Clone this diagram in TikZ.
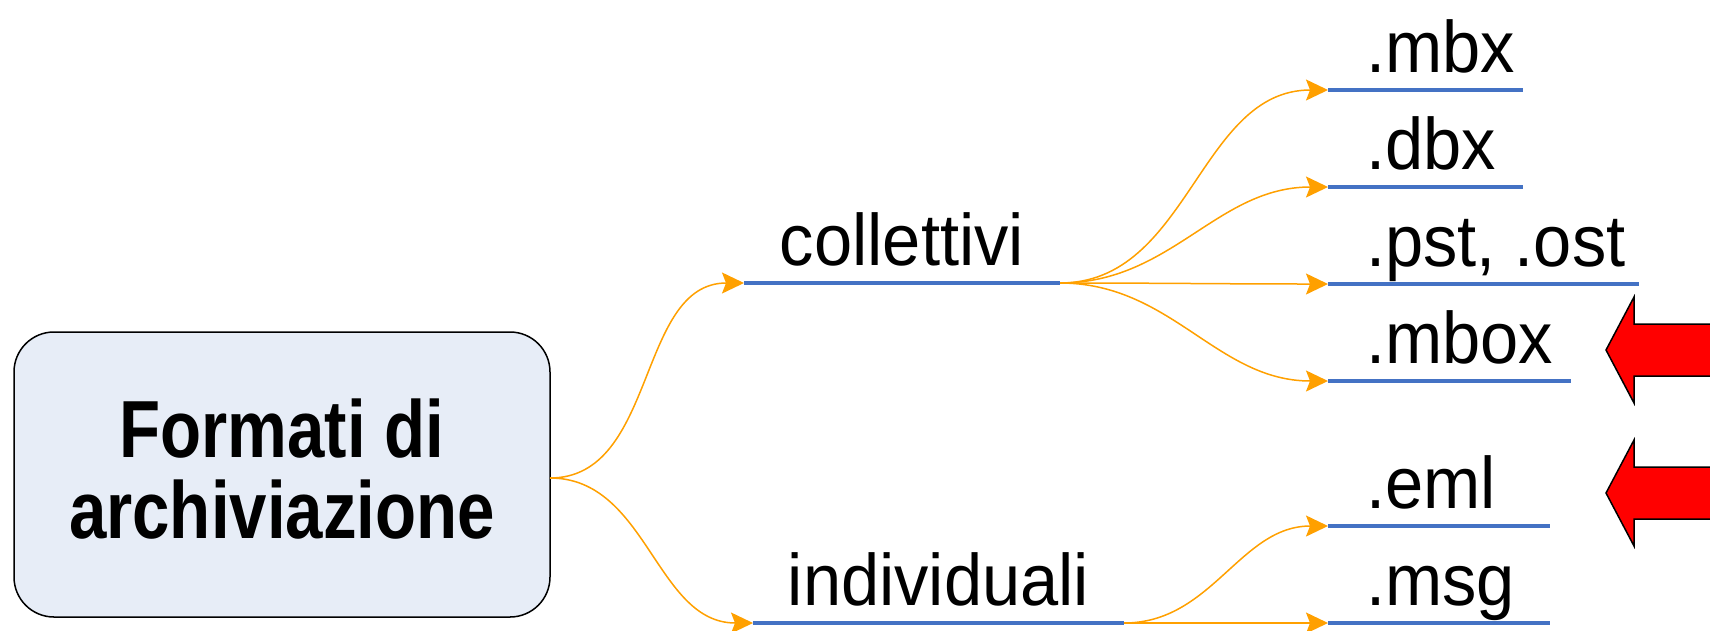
\documentclass[tikz,border=0pt]{standalone}
\usepackage{fontspec}
\setmainfont{Liberation Sans}
\newfontfamily\titlefont[FakeStretch=0.83]{Liberation Sans}
\newfontfamily\itemfont[FakeStretch=0.94]{Liberation Sans}
\usetikzlibrary{arrows.meta}
\definecolor{barblue}{RGB}{68,114,196}
\definecolor{linkorange}{RGB}{255,160,0}
\definecolor{boxfill}{RGB}{231,237,247}

\tikzset{
	bar/.style={barblue, line width=4pt},
	link/.style={linkorange, line width=1.5pt, -{Stealth[length=22pt,width=21pt,inset=4pt]}},
	item/.style={font=\itemfont\fontsize{73}{73}\selectfont, inner sep=0pt},
	titlebox/.style={draw, line width=1.5pt, fill=boxfill, rounded corners=40pt, minimum width=536pt, minimum height=285pt, align=center, font=\titlefont\bfseries\fontsize{81}{81}\selectfont, text depth=11pt},
	pointer/.style={fill=red, draw=black, line width=1.5pt, line join=miter}
}

\begin{document}
\begin{tikzpicture}[x=1pt,y=-1pt]
	\useasboundingbox (0,0) rectangle (1710,630);

	\node[titlebox] (fmt) at (282,474.5) {Formati di\\archiviazione};
	\coordinate (fmt-r) at (550,478);

	% rami
	\foreach \n/\a/\b/\y/\t in {coll/744/1060/283/collettivi, indiv/753/1124/623/individuali} {
		\coordinate (\n-a) at (\a,\y);
		\coordinate (\n-b) at (\b,\y);
		\draw[bar] (\n-a) -- (\n-b);
		\node[item, anchor=base] (\n) at ({(\a+\b)/2},\y-17.5) {\t};
	}

	% formati
	\foreach \n/\b/\y/\t in {mbx/1523/90/.mbx, dbx/1523/187/.dbx, pst/1639/284/{.pst, .ost}, mbox/1571/381/.mbox, eml/1550/526/.eml, msg/1550/623/.msg} {
		\coordinate (\n-a) at (1328,\y);
		\draw[bar] (\n-a) -- (\b,\y);
		\node[item, anchor=base west] (\n) at (1366,\y-17.5) {\t};
	}

	% collegamenti
	\draw[link] (fmt-r) to[out=0,in=180] (coll-a);
	\draw[link] (fmt-r) to[out=0,in=180] (indiv-a);
	\foreach \n in {mbx,dbx,pst,mbox}
		\draw[link] (coll-b) to[out=0,in=180] (\n-a);
	\foreach \n in {eml,msg}
		\draw[link] (indiv-b) to[out=0,in=180] (\n-a);

	% frecce rosse
	\foreach \y in {350,493}
		\draw[pointer] (1712,\y-26) -- (1634,\y-26) -- (1634,\y-53) -- (1606,\y) -- (1634,\y+53) -- (1634,\y+26) -- (1712,\y+26);
\end{tikzpicture}
\end{document}
